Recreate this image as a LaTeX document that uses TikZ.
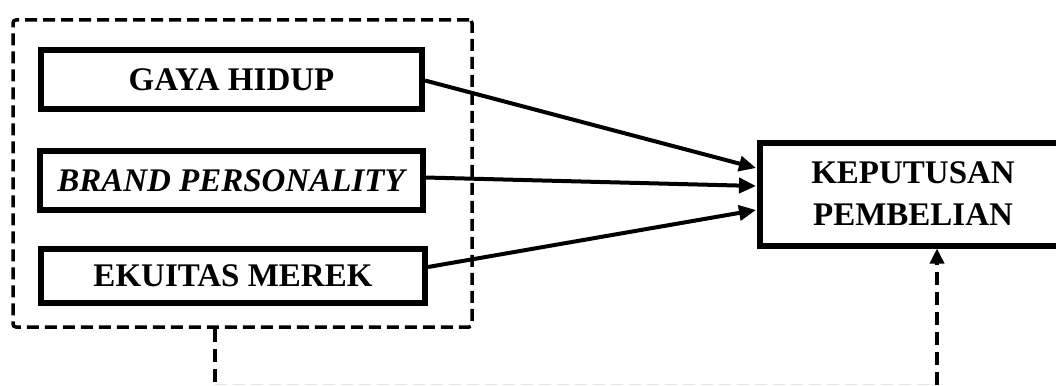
\documentclass[tikz,border=0pt]{standalone}
\usepackage{fontspec}
\setmainfont{Liberation Serif}
\usetikzlibrary{arrows.meta,calc}
\tikzset{
  varbox/.style={draw, line width=6pt, rectangle, inner sep=0pt, font=\fontsize{33}{42}\selectfont\bfseries, align=center},
  grpbox/.style={draw, line width=3.5pt, rectangle, rounded corners=3pt, dash pattern=on 12pt off 6pt},
  arr/.style={line width=4pt, -{Triangle[length=17pt,width=15pt]}},
  darr/.style={line width=3.5pt, dash pattern=on 13pt off 7pt},
  faint/.style={line width=1.5pt, draw=black!10, dash pattern=on 12pt off 6pt}
}
\begin{document}
\begin{tikzpicture}[x=1pt,y=-1pt]
\useasboundingbox (0,0) rectangle (1056,385);
\node[grpbox, minimum width=459pt, minimum height=307pt] (grp) at (242.5,173.5) {};
\node[varbox, minimum width=381pt, minimum height=59pt] (gaya) at (231.5,79.5) {GAYA HIDUP};
\node[varbox, minimum width=383pt, minimum height=59pt] (brand) at (231,180.5) {\itshape BRAND PERSONALITY};
\node[varbox, minimum width=384pt, minimum height=54pt] (ekuitas) at (233,276) {EKUITAS MEREK};
\node[varbox, minimum width=306pt, minimum height=103pt] (kep) at (913,194) {KEPUTUSAN\\PEMBELIAN};
\coordinate (c1) at (215,384.5);
\coordinate (c2) at (937,384.5);
\draw[arr] ([yshift=-1pt]gaya.east) -- ([yshift=26pt,xshift=-1pt]kep.west);
\draw[arr] ([yshift=3pt]brand.east) -- ([yshift=8pt,xshift=-1pt]kep.west);
\draw[arr] ([yshift=9pt]ekuitas.east) -- ([yshift=-16pt,xshift=-1pt]kep.west);
\draw[faint] (c1) -- (c2);
\draw[darr] (grp.south -| c1) -- (c1);
\draw[darr, -{Triangle[length=15pt,width=14pt]}] (c2) -- (kep.south -| c2);
\end{tikzpicture}
\end{document}
